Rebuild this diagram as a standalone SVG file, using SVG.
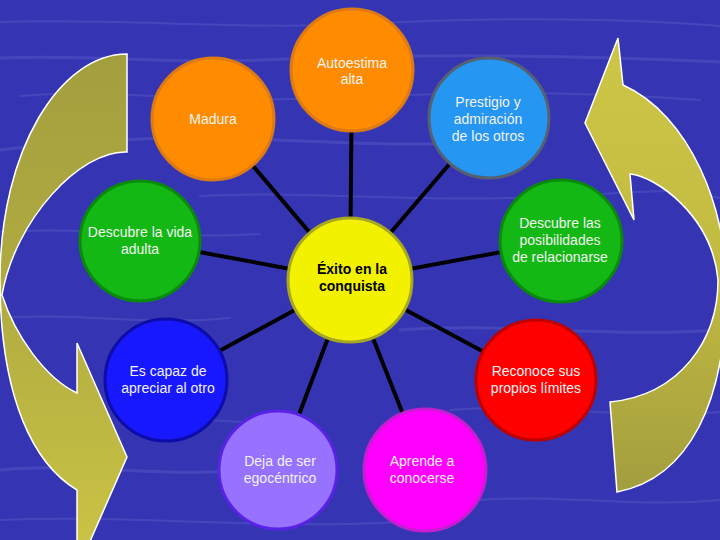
<svg xmlns="http://www.w3.org/2000/svg" width="720" height="540" viewBox="0 0 720 540">
<defs>
<linearGradient id="gLeft" x1="0" y1="0" x2="0" y2="1">
<stop offset="0" stop-color="#a39f3e"/>
<stop offset="0.45" stop-color="#b0ab40"/>
<stop offset="1" stop-color="#cbc545"/>
</linearGradient>
<linearGradient id="gRight" x1="0" y1="0" x2="0" y2="1">
<stop offset="0" stop-color="#cdc645"/>
<stop offset="0.5" stop-color="#c2bb42"/>
<stop offset="1" stop-color="#a39e3e"/>
</linearGradient>
<style>
.bg{fill:#3535b3}
.streak{fill:none;stroke:#8a8ae0;stroke-opacity:0.2;stroke-linecap:round}
.arrow{stroke:#ffffff;stroke-width:1.5;stroke-linejoin:miter}
.conn line{stroke:#000000;stroke-width:4;stroke-linecap:butt}
.node circle{stroke-width:3}
.lbl{font-family:"Liberation Sans",Arial,sans-serif;font-size:14px;fill:#f2f2f2;text-anchor:middle}
.ctr{font-family:"Liberation Sans",Arial,sans-serif;font-size:14px;font-weight:bold;fill:#000000;text-anchor:middle}
</style>
</defs>
<g id="background">
<rect class="bg" x="0" y="0" width="720" height="540"/>
<path class="streak" stroke-width="2" d="M0,22 C120,18 240,30 360,24 S600,16 720,26"/>
<path class="streak" stroke-width="3" d="M0,58 C90,54 160,64 260,60 S520,52 720,62"/>
<path class="streak" stroke-width="2" d="M20,96 C110,88 200,104 330,98 S560,90 700,100"/>
<path class="streak" stroke-width="3" d="M0,150 C60,140 120,160 40,162 M120,140 C240,132 360,150 480,142"/>
<path class="streak" stroke-width="2" d="M200,196 C300,190 420,204 560,196 S680,190 720,198"/>
<path class="streak" stroke-width="2" d="M0,232 C80,226 160,240 260,234"/>
<path class="streak" stroke-width="3" d="M400,330 C500,322 600,338 720,330"/>
<path class="streak" stroke-width="2" d="M0,318 C70,312 150,326 230,318"/>
<path class="streak" stroke-width="2" d="M130,420 C200,414 240,428 300,420 M450,410 C540,402 620,420 720,412"/>
<path class="streak" stroke-width="3" d="M0,470 C80,462 160,478 240,470"/>
<path class="streak" stroke-width="2" d="M480,500 C560,494 640,508 720,500"/>
<path class="streak" stroke-width="2" d="M0,520 C120,514 260,530 400,522"/>
</g>
<g id="arrows">
<path id="arrow-left" class="arrow" fill="url(#gLeft)" d="M127,54 L127,152 C80,150 15,220 2,295 C15,335 45,378 77,393 L77,343 L127,457 L77,571 L77,490 C35,465 0,400 0,280 C0,150 60,54 127,54 Z"/>
<path id="arrow-right" class="arrow" fill="url(#gRight)" d="M618,38 L623,85 C690,115 728,210 726,290 C726,400 690,478 617,492 L610,402 C680,395 718,340 718,280 C712,215 655,176 630,174 L634,220 L585,123 Z"/>
</g>
<g id="connectors" class="conn">
<line x1="350" y1="280" x2="352" y2="70"/>
<line x1="350" y1="280" x2="213" y2="119"/>
<line x1="350" y1="280" x2="489" y2="118"/>
<line x1="350" y1="280" x2="140" y2="241"/>
<line x1="350" y1="280" x2="561" y2="241"/>
<line x1="350" y1="280" x2="166" y2="380"/>
<line x1="350" y1="280" x2="536" y2="380"/>
<line x1="350" y1="280" x2="278" y2="470"/>
<line x1="350" y1="280" x2="425" y2="470"/>
</g>
<g id="node-autoestima" class="node">
<circle cx="352" cy="70" r="61" fill="#ff8c00" stroke="#dd7a14"/>
<text class="lbl" x="352" y="68">Autoestima</text>
<text class="lbl" x="352" y="84">alta</text>
</g>
<g id="node-madura" class="node">
<circle cx="213" cy="119" r="61" fill="#ff8c00" stroke="#dd7a14"/>
<text class="lbl" x="213" y="124">Madura</text>
</g>
<g id="node-prestigio" class="node">
<circle cx="489" cy="118" r="60" fill="#2596f2" stroke="#566070"/>
<text class="lbl" x="488" y="107">Prestigio y</text>
<text class="lbl" x="488" y="124">admiración</text>
<text class="lbl" x="488" y="141">de los otros</text>
</g>
<g id="node-vida-adulta" class="node">
<circle cx="140" cy="241" r="60" fill="#14b814" stroke="#0a8a0a"/>
<text class="lbl" x="140" y="237">Descubre la vida</text>
<text class="lbl" x="140" y="254">adulta</text>
</g>
<g id="node-relacionarse" class="node">
<circle cx="561" cy="241" r="61" fill="#14b814" stroke="#0a8a0a"/>
<text class="lbl" x="560" y="228">Descubre las</text>
<text class="lbl" x="560" y="245">posibilidades</text>
<text class="lbl" x="560" y="262">de relacionarse</text>
</g>
<g id="node-exito" class="node">
<circle cx="350" cy="280" r="62" fill="#f2f200" stroke="#a8a820"/>
<text class="ctr" x="352" y="274">Éxito en la</text>
<text class="ctr" x="352" y="291">conquista</text>
</g>
<g id="node-apreciar" class="node">
<circle cx="166" cy="380" r="61" fill="#1818ff" stroke="#0c0ca8"/>
<text class="lbl" x="168" y="376">Es capaz de</text>
<text class="lbl" x="168" y="393">apreciar al otro</text>
</g>
<g id="node-limites" class="node">
<circle cx="536" cy="380" r="60" fill="#ff0000" stroke="#c00000"/>
<text class="lbl" x="536" y="376">Reconoce sus</text>
<text class="lbl" x="536" y="393">propios límites</text>
</g>
<g id="node-egocentrico" class="node">
<circle cx="278" cy="470" r="59" fill="#9672ff" stroke="#5a22e6" stroke-width="4"/>
<text class="lbl" x="280" y="466">Deja de ser</text>
<text class="lbl" x="280" y="483">egocéntrico</text>
</g>
<g id="node-conocerse" class="node">
<circle cx="425" cy="470" r="61" fill="#ff00ff" stroke="#c41ed0"/>
<text class="lbl" x="422" y="466">Aprende a</text>
<text class="lbl" x="422" y="483">conocerse</text>
</g>
</svg>
